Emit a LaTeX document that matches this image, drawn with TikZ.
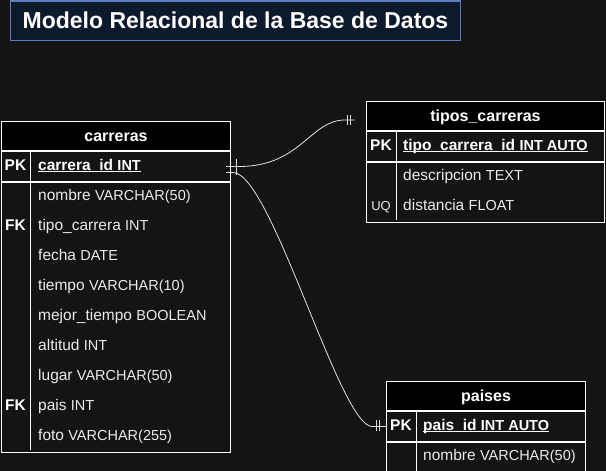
\documentclass[tikz,border=0pt]{standalone}
\usepackage{fontspec}
\setmainfont{Liberation Sans}
\definecolor{fondo}{RGB}{20,20,20}
\definecolor{titfondo}{RGB}{12,26,44}
\definecolor{titborde}{RGB}{92,126,190}
\definecolor{linea}{RGB}{225,225,225}
\newcommand\cabsize{\fontsize{16}{19}\selectfont}
\newcommand\nomsize{\fontsize{15.5}{18}\selectfont}
\newcommand\tiposize{\fontsize{14.5}{17}\selectfont}
\newcommand\campo[2]{{\nomsize #1 }{\tiposize #2}}
\newcommand\subraya[1]{{\setbox0\hbox{#1}\rlap{\rule[-1.8pt]{\wd0}{1pt}}\box0}}
\tikzset{
	tabla/.style={draw=white,line width=1pt,inner sep=0pt,anchor=north west},
	cabecera/.style={tabla,fill=black,text=white,font=\bfseries\cabsize,text height=12pt,text depth=1pt},
	clave/.style={text=white,font=\bfseries\nomsize,inner sep=0pt,anchor=base},
	texto/.style={text=white!92!black,inner sep=0pt,anchor=base west},
	rel/.style={draw=linea,line width=0.8pt}
}
\begin{document}
\begin{tikzpicture}[x=1pt,y=-1pt,line join=round]
	\useasboundingbox (0,0) rectangle (606,471);
	\fill[fondo] (0,0) rectangle (606,471);
	\clip (0,0) rectangle (606,471);
	% titulo
	\node[draw=titborde,fill=titfondo,line width=1pt,minimum width=450pt,minimum height=39pt,inner sep=0pt,
		text=white,font=\bfseries\fontsize{23}{27}\selectfont,text height=17pt,text depth=2pt]
		(titulo) at (235.5,20.5) {Modelo Relacional de la Base de Datos};
	% tabla carreras
	\node[cabecera,minimum width=229pt,minimum height=29pt] (carreras) at (1,121) {carreras};
	\node[tabla,minimum width=229pt,minimum height=30pt,anchor=north] (carreras-pk) at (carreras.south) {};
	\node[tabla,minimum width=229pt,minimum height=270pt,anchor=north] (carreras-cuerpo) at (carreras-pk.south) {};
	\draw[white,line width=1pt] (30,150)--(30,450);
	\node[clave] (carreras-k0) at (15.5,170.5) {PK};
	\node[texto,text=white] (carreras-id) at (38,170.5) {\subraya{\bfseries\nomsize carrera\_id {\tiposize INT}}};
	\foreach \i/\n/\t in {1/nombre/VARCHAR(50),2/tipo\_carrera/INT,3/fecha/DATE,4/tiempo/VARCHAR(10),
		5/mejor\_tiempo/BOOLEAN,6/altitud/INT,7/lugar/VARCHAR(50),8/pais/INT,9/foto/VARCHAR(255)}
	{\node[texto] (carreras-f\i) at (38,170.5+30*\i) {\campo{\n}{\t}};}
	\node[clave] (carreras-k2) at (15.5,230.5) {FK};
	\node[clave] (carreras-k8) at (15.5,410.5) {FK};
	% tabla tipos_carreras
	\node[cabecera,minimum width=238pt,minimum height=29pt] (tipos) at (366,101) {tipos\_carreras};
	\node[tabla,minimum width=238pt,minimum height=30pt,anchor=north] (tipos-pk) at (tipos.south) {};
	\node[tabla,minimum width=238pt,minimum height=60pt,anchor=north] (tipos-cuerpo) at (tipos-pk.south) {};
	\draw[white,line width=1pt] (396,130)--(396,220);
	\node[clave] (tipos-k0) at (381,150.5) {PK};
	\node[texto,text=white] (tipos-id) at (403,150.5) {\subraya{\bfseries\nomsize tipo\_carrera\_id {\tiposize INT AUTO}}};
	\node[texto] (tipos-f1) at (403,180.5) {\campo{descripcion}{TEXT}};
	\node[texto] (tipos-f2) at (403,210.5) {\campo{distancia}{FLOAT}};
	\node[clave,font=\fontsize{13}{16}\selectfont,text=white!92!black] (tipos-k2) at (381,210.5) {UQ};
	% tabla paises
	\node[cabecera,minimum width=199pt,minimum height=29pt] (paises) at (386,381) {paises};
	\node[tabla,minimum width=199pt,minimum height=30pt,anchor=north] (paises-pk) at (paises.south) {};
	\node[tabla,minimum width=199pt,minimum height=45pt,anchor=north] (paises-cuerpo) at (paises-pk.south) {};
	\draw[white,line width=1pt] (416,410)--(416,485);
	\node[clave] (paises-k0) at (401,430.5) {PK};
	\node[texto,text=white] (paises-id) at (423,430.5) {\subraya{\bfseries\nomsize pais\_id {\tiposize INT AUTO}}};
	\node[texto] (paises-f1) at (423,460.5) {\campo{nombre}{VARCHAR(50)}};
	% relaciones
	\coordinate (r1a) at ([xshift=-5pt]carreras-pk.east);
	\coordinate (r1b) at (355,120);
	\coordinate (r2a) at ([xshift=-5pt,yshift=-6pt]carreras-pk.east);
	\draw[rel] (r1a) -- ++(13,0) .. controls +(62,0) and +(-35,0) .. ([xshift=-10pt]r1b) -- (r1b);
	\draw[rel] (r2a) -- ++(7,0) .. controls +(38,0) and +(-32,0) .. ([xshift=-14pt]paises-pk.west) -- (paises-pk.west);
	\draw[rel] (236,159)--(236,175) (347,115)--(347,125) (350,115)--(350,125)
		(376,420)--(376,431) (379,420)--(379,431);
\end{tikzpicture}
\end{document}
